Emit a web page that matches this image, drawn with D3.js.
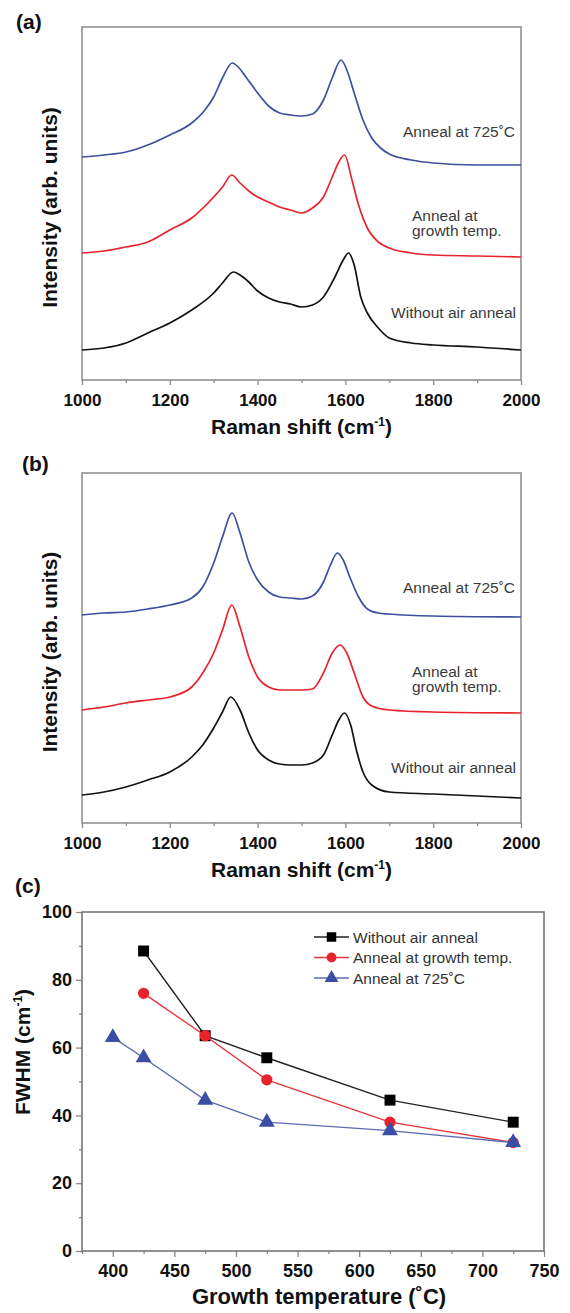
<!DOCTYPE html>
<html>
<head>
<meta charset="utf-8">
<script src="https://cdn.jsdelivr.net/npm/d3@7"></script>
<style>
  body { margin: 0; background: #fff; }
  svg text { font-family: "Liberation Sans", Arial, sans-serif; }
</style>
</head>
<body>
<svg id="fig" width="570" height="1313"></svg>
<script>
// ---- data ----
// Raman spectra, [shift (cm-1), intensity (arb.)]
const a_without = [[1000,30],[1050,32],[1100,37],[1150,47],[1200,57],[1250,70],[1300,87],[1320,97],[1345,108],[1360,105],[1380,98],[1400,89],[1425,82],[1450,78],[1475,76],[1500,73],[1525,75],[1550,83],[1575,102],[1595,120],[1607,127],[1620,115],[1635,83],[1650,67],[1675,52],[1700,42],[1750,37],[1800,35],[1900,33],[2000,30]];
const a_growth = [[1000,127],[1050,129],[1100,133],[1150,138],[1200,150],[1250,162],[1300,183],[1320,193],[1341,205],[1360,197],[1380,189],[1400,183],[1425,178],[1450,173],[1475,170],[1500,167],[1525,172],[1550,183],[1570,203],[1585,218],[1598,225],[1615,200],[1630,175],[1650,152],[1675,138],[1700,132],[1750,127],[1800,125],[1900,124],[2000,123]];
const a_725 = [[1000,223],[1050,225],[1100,228],[1150,235],[1200,245],[1250,257],[1280,270],[1300,283],[1320,302],[1342,317],[1356,313],[1370,305],[1385,296],[1400,287],[1425,274],[1450,267],[1475,265],[1500,264],[1525,266],[1550,280],[1570,302],[1590,320],[1605,308],[1620,287],[1640,260],[1660,242],[1680,232],[1700,226],[1750,220],[1800,217],[1900,215],[2000,215]];

const b_without = [[1000,28],[1050,31],[1100,36],[1150,43],[1200,51],[1250,66],[1275,78],[1300,95],[1320,111],[1339,126],[1360,113],[1380,90],[1400,73],[1425,63],[1450,59],[1475,58],[1500,58],[1525,60],[1550,68],[1570,88],[1585,103],[1598,110],[1612,98],[1625,73],[1640,51],[1660,38],[1700,31],[1800,29],[2000,25]];
const b_growth = [[1000,113],[1050,116],[1100,120],[1150,123],[1200,126],[1250,136],[1275,150],[1300,170],[1320,193],[1341,218],[1360,196],[1380,166],[1400,146],[1425,136],[1450,133],[1475,133],[1500,133],[1525,134],[1550,150],[1570,170],[1588,178],[1603,170],[1620,150],[1640,126],[1660,117],[1700,113],[1800,111],[2000,110]];
const b_725 = [[1000,208],[1050,210],[1100,211],[1150,214],[1200,218],[1250,225],[1275,236],[1300,260],[1320,286],[1342,310],[1360,290],[1380,261],[1400,243],[1425,231],[1450,226],[1475,225],[1500,224],[1525,227],[1550,241],[1565,257],[1582,270],[1595,263],[1610,246],[1630,226],[1650,214],[1675,210],[1700,209],[1800,207],[2000,206]];

const ramanTicks = [1000, 1200, 1400, 1600, 1800, 2000];
const ramanMinor = [1100, 1300, 1500, 1700, 1900];

// FWHM vs growth temperature
const tempWithout = [425, 475, 525, 625, 725];
const fwhmWithout = [88.5, 63.5, 57, 44.5, 38];
const tempGrowth = [425, 475, 525, 625, 725];
const fwhmGrowth = [76, 63.5, 50.5, 38, 32];
const temp725 = [400, 425, 475, 525, 625, 725];
const fwhm725 = [63, 57, 44.5, 38, 35.5, 32];

const tempTicks = [400, 450, 500, 550, 600, 650, 700, 750];
const tempMinor = [375, 425, 475, 525, 575, 625, 675, 725];
const fwhmTicks = [0, 20, 40, 60, 80, 100];
const fwhmMinor = [10, 30, 50, 70, 90];

const legendNames = ["Without air anneal", "Anneal at growth temp.", "Anneal at 725˚C"];

const BLACK = "#111", RED = "#e8232b", BLUE = "#3d4f9e";
const FRAME = "#8a8a8a";

const svg = d3.select("#fig");

function styleTicks(g, size) {
    g.select(".domain").remove();
    g.selectAll(".tick line").attr("stroke", FRAME).attr("stroke-width", 1.3);
    g.selectAll(".tick text")
        .attr("fill", "#111")
        .style("font-weight", "bold")
        .style("font-size", size + "px");
}

function ramanPanel(box, curves, notes, letter) {
    let x = d3.scaleLinear().domain([1000, 2000]).range([box.left, box.right]);
    let y = d3.scaleLinear().domain([0, box.bottom - box.top]).range([box.bottom, box.top]);

    // minor ticks then major with labels
    svg.append("g")
        .attr("transform", `translate(0,${box.bottom})`)
        .call(d3.axisBottom(x).tickValues(ramanMinor).tickSize(3).tickFormat(""))
        .call(g => styleTicks(g, 17));
    svg.append("g")
        .attr("transform", `translate(0,${box.bottom})`)
        .call(d3.axisBottom(x).tickValues(ramanTicks).tickSize(5).tickPadding(9).tickFormat(d3.format("d")))
        .call(g => styleTicks(g, 17));

    svg.append("rect")
        .attr("x", box.left).attr("y", box.top)
        .attr("width", box.right - box.left).attr("height", box.bottom - box.top)
        .attr("fill", "none").attr("stroke", FRAME).attr("stroke-width", 1.5);

    let line = d3.line()
        .x(d => x(d[0]))
        .y(d => y(d[1]))
        .curve(d3.curveMonotoneX);

    curves.forEach(c => {
        svg.append("path")
            .datum(c.data)
            .attr("d", line)
            .attr("fill", "none")
            .attr("stroke", c.color)
            .attr("stroke-width", 1.7)
            .attr("stroke-linejoin", "round");
    });

    notes.forEach(n => {
        let t = svg.append("text")
            .attr("x", n.x).attr("y", n.y)
            .attr("text-anchor", n.anchor || "start")
            .attr("fill", "#3a3a3a")
            .style("font-size", "15.5px");
        n.lines.forEach((s, i) => {
            t.append("tspan").attr("x", n.x).attr("dy", i == 0 ? 0 : 15).text(s);
        });
    });

    // axis titles
    let xt = svg.append("text")
        .attr("x", (box.left + box.right) / 2).attr("y", box.bottom + 54)
        .attr("text-anchor", "middle")
        .style("font-size", "21px").style("font-weight", "bold").attr("fill", "#111");
    xt.append("tspan").text("Raman shift (cm");
    xt.append("tspan").attr("dy", -8).style("font-size", "12px").text("-1");
    xt.append("tspan").attr("dy", 8).text(")");

    svg.append("text")
        .attr("transform", `translate(57,${(box.top + box.bottom) / 2 + 4}) rotate(-90)`)
        .attr("text-anchor", "middle")
        .style("font-size", "21px").style("font-weight", "bold").attr("fill", "#111")
        .text("Intensity (arb. units)");

    svg.append("text")
        .attr("x", letter.x).attr("y", letter.y)
        .style("font-size", "21px").style("font-weight", "bold").attr("fill", "#111")
        .text(letter.text);
}

ramanPanel({ left: 82, right: 521, top: 27, bottom: 380 },
    [{ data: a_without, color: BLACK }, { data: a_growth, color: RED }, { data: a_725, color: BLUE }],
    [{ x: 515, y: 137, anchor: "end", lines: ["Anneal at 725˚C"] },
     { x: 412, y: 221, lines: ["Anneal at", "growth temp."] },
     { x: 516, y: 318, anchor: "end", lines: ["Without air anneal"] }],
    { x: 16, y: 29, text: "(a)" });

ramanPanel({ left: 82, right: 521, top: 473, bottom: 823 },
    [{ data: b_without, color: BLACK }, { data: b_growth, color: RED }, { data: b_725, color: BLUE }],
    [{ x: 515, y: 593, anchor: "end", lines: ["Anneal at 725˚C"] },
     { x: 412, y: 677, lines: ["Anneal at", "growth temp."] },
     { x: 516, y: 773, anchor: "end", lines: ["Without air anneal"] }],
    { x: 22, y: 471, text: "(b)" });

// ---- panel (c) ----
const C = { left: 82, right: 544, top: 912, bottom: 1251 };
let xc = d3.scaleLinear().domain([375, 750]).range([C.left, C.right]);
let yc = d3.scaleLinear().domain([0, 100]).range([C.bottom, C.top]);

svg.append("g").attr("transform", `translate(0,${C.bottom})`)
    .call(d3.axisBottom(xc).tickValues(tempMinor).tickSize(3).tickFormat(""))
    .call(g => styleTicks(g, 18));
svg.append("g").attr("transform", `translate(0,${C.bottom})`)
    .call(d3.axisBottom(xc).tickValues(tempTicks).tickSize(6).tickPadding(7).tickFormat(d3.format("d")))
    .call(g => styleTicks(g, 18));
svg.append("g").attr("transform", `translate(${C.left},0)`)
    .call(d3.axisLeft(yc).tickValues(fwhmMinor).tickSize(3).tickFormat(""))
    .call(g => styleTicks(g, 18));
svg.append("g").attr("transform", `translate(${C.left},0)`)
    .call(d3.axisLeft(yc).tickValues(fwhmTicks).tickSize(6).tickPadding(4).tickFormat(d3.format("d")))
    .call(g => styleTicks(g, 18));

svg.append("rect")
    .attr("x", C.left).attr("y", C.top)
    .attr("width", C.right - C.left).attr("height", C.bottom - C.top)
    .attr("fill", "none").attr("stroke", "#6e6e6e").attr("stroke-width", 1.5);

const fwhmSeries = [
    { t: tempWithout, v: fwhmWithout, color: "#000", line: "#222", shape: d3.symbolSquare, size: 120 },
    { t: tempGrowth, v: fwhmGrowth, color: RED, line: "#e8363c", shape: d3.symbolCircle, size: 100 },
    { t: temp725, v: fwhm725, color: "#3a4ea6", line: "#5d6db0", shape: d3.symbolTriangle, size: 110 }
];

let lineC = d3.line().x(d => xc(d[0])).y(d => yc(d[1]));

fwhmSeries.forEach((s, i) => {
    let pts = s.t.map((t, k) => [t, s.v[k]]);
    svg.append("path").datum(pts).attr("d", lineC)
        .attr("fill", "none").attr("stroke", s.line).attr("stroke-width", 1.4);
    svg.append("g").selectAll("path").data(pts).enter().append("path")
        .attr("transform", d => `translate(${xc(d[0])},${yc(d[1])})`)
        .attr("d", d3.symbol().type(s.shape).size(s.size))
        .attr("fill", s.color);

    // legend row
    let ly = 937 + i * 20.5;
    svg.append("line").attr("x1", 314).attr("x2", 349).attr("y1", ly).attr("y2", ly)
        .attr("stroke", s.line).attr("stroke-width", 1.4);
    svg.append("path").attr("transform", `translate(331.5,${ly})`)
        .attr("d", d3.symbol().type(s.shape).size(s.size * 0.75))
        .attr("fill", s.color);
    svg.append("text").attr("x", 353).attr("y", ly + 5.5)
        .style("font-size", "15.5px").attr("fill", "#333")
        .text(legendNames[i]);
});

svg.append("text")
    .attr("x", (C.left + C.right) / 2 + 6).attr("y", 1304)
    .attr("text-anchor", "middle")
    .style("font-size", "22px").style("font-weight", "bold").attr("fill", "#111")
    .text("Growth temperature (˚C)");

let ytc = svg.append("text")
    .attr("transform", `translate(30,1052) rotate(-90)`)
    .attr("text-anchor", "middle")
    .style("font-size", "21px").style("font-weight", "bold").attr("fill", "#111");
ytc.append("tspan").text("FWHM (cm");
ytc.append("tspan").attr("dy", -8).style("font-size", "12px").text("-1");
ytc.append("tspan").attr("dy", 8).text(")");

svg.append("text").attr("x", 15).attr("y", 893)
    .style("font-size", "21px").style("font-weight", "bold").attr("fill", "#111")
    .text("(c)");
</script>
</body>
</html>
